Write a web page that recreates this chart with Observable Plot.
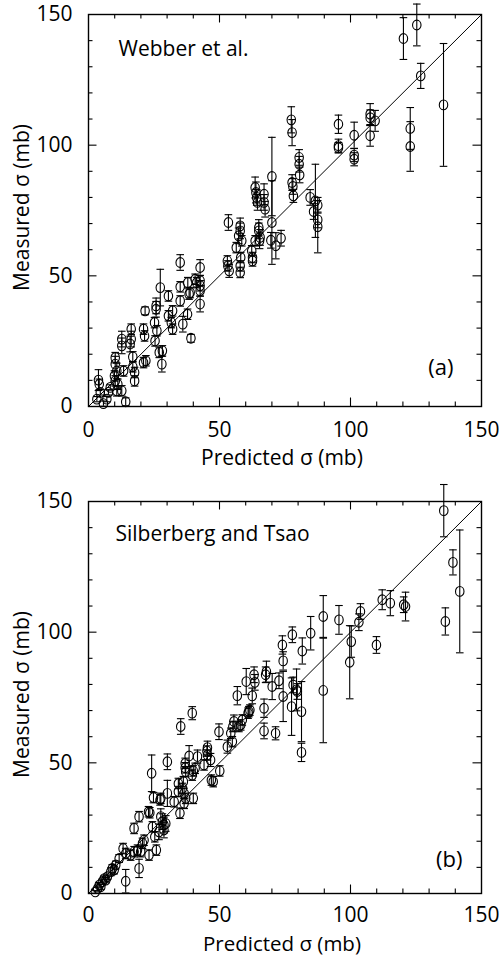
<!DOCTYPE html>
<html><head><meta charset="utf-8">
<script src="https://cdn.jsdelivr.net/npm/d3@7"></script>
<script src="https://cdn.jsdelivr.net/npm/@observablehq/plot@0.6"></script>
<style>
body{margin:0;background:#fff;}
#chart svg{display:block;}
</style></head><body><div id="chart"></div>
<script>
// Panel (a): Webber et al.
const webberPred = [120.2,125.3,126.8,135.5,122.8,122.8,107.5,107.5,107.5,109.4,95.4,95.4,95.4,101.4,101.4,101.4,77.4,77.7,77.7,78.0,78.2,80.4,80.4,80.6,70.0,70.0,69.6,71.5,73.5,84.6,85.9,86.6,87.5,87.5,87.5,63.6,63.9,64.2,64.5,67.0,67.0,67.4,65.0,65.0,65.5,65.3,62.3,62.6,62.6,58.5,56.4,57.3,57.9,57.9,58.1,57.9,57.9,53.4,53.0,53.2,53.7,63.6,35.0,42.6,40.7,41.3,42.6,42.6,37.9,38.4,38.8,35.0,35.0,42.6,37.8,36.0,39.1,30.5,32.1,30.5,32.1,31.6,27.4,25.8,25.8,25.2,26.1,25.4,27.0,28.2,28.0,21.6,21.0,21.4,21.9,21.0,16.3,16.3,15.9,16.9,16.9,17.6,17.6,12.7,12.7,10.2,10.2,10.8,9.9,10.2,11.2,13.4,10.8,12.7,14.2,3.8,4.1,3.2,4.5,5.7,7.0,7.6,8.3,42.6];
const webberMeas = [140.8,146.0,126.5,115.4,106.4,99.5,111.9,110.5,103.6,109.3,108.0,99.8,99.0,103.8,96.2,94.6,109.7,104.8,85.7,84.2,80.6,95.3,92.7,88.6,88.0,70.4,63.6,61.5,64.4,80.0,74.6,78.7,77.0,71.4,68.8,83.8,81.9,80.0,78.1,81.2,78.1,75.5,68.5,67.2,64.7,63.4,59.6,57.0,55.7,63.4,60.8,65.3,67.2,69.1,57.0,53.8,51.3,70.4,55.7,53.8,51.9,63.4,55.1,53.2,48.7,47.4,48.1,46.2,47.4,43.0,43.6,45.8,40.4,39.2,35.3,31.5,26.1,42.3,36.6,34.7,29.6,32.1,45.5,38.5,37.2,32.1,29.0,25.1,20.7,21.3,16.2,36.6,29.6,27.0,17.5,16.8,29.6,25.8,23.9,19.0,15.2,13.0,9.8,25.8,23.2,18.7,16.2,13.6,11.7,9.8,8.5,13.6,6.0,6.0,1.8,10.1,8.5,2.8,5.4,1.1,2.8,5.4,7.3,44.3];
const webberErr = [8,8,4.8,23.5,8,9.5,4,3,4,4,3.5,2.5,2,5,2.5,2.5,5,5,3,3,2.5,3,3,3,15,16,3,5,3,3,3,14,3,3,10,4,4,3,3,4,3,3,3,3,3,3,2,2,2,2,2,3,3,3,2,2,2,3,2,2,2.5,2,3,3,2,2,2,2,2,2,2,2,2,3,2,3,1.5,2,2,2,2,2,7,3,3,2,2,2,2,2,3,1.5,2,2,2,2,2,3,3,2,2,2,2,3,3,2,3,3,2,2,2,2,2,2,1.5,4,2,1,1,1,1,1,1,2];

// Panel (b): Silberberg and Tsao
const stPred = [135.6,139.1,141.7,136.2,121.0,120.3,112.1,115.2,109.9,103.8,103.2,100.3,99.7,95.6,89.6,89.6,84.8,81.6,81.3,81.3,79.4,79.7,78.1,77.5,77.8,74.0,74.3,74.3,70.1,72.7,71.4,67.9,67.6,67.0,67.0,63.2,63.5,60.2,62.5,61.2,60.9,61.6,56.8,58.1,57.4,58.7,55.5,55.1,54.3,53.0,54.9,49.8,50.1,46.9,47.6,45.4,45.4,45.2,46.6,44.1,41.6,40.7,39.6,40.0,38.4,36.9,36.9,37.1,39.6,35.2,36.2,35.8,36.5,34.3,34.3,40.0,37.1,36.5,32.7,34.9,30.1,30.1,27.3,27.6,24.1,24.8,22.9,23.4,19.3,17.4,24.4,25.3,25.9,27.6,28.2,28.8,29.5,28.8,26.9,21.2,20.6,18.7,19.9,23.1,13.2,14.2,16.1,17.4,19.3,14.2,11.7,10.4,9.1,8.5,9.8,7.2,6.6,5.3,4.1,3.5,2.6,4.7,6.0];
const stMeas = [146.5,126.7,115.6,104.1,109.8,110.5,112.4,111.1,95.1,107.9,103.8,96.4,88.5,104.7,106.0,77.7,99.6,92.8,69.6,54.0,77.9,77.3,79.8,71.5,99.0,95.1,89.0,75.4,79.2,81.4,61.3,84.9,83.7,70.9,62.2,83.7,80.8,81.1,75.6,69.6,69.0,70.2,75.7,64.5,63.9,66.4,65.8,63.9,61.3,56.2,58.1,61.9,46.9,43.4,42.8,55.8,53.0,54.5,51.1,49.2,52.4,47.9,45.3,46.9,52.6,48.1,49.8,46.6,69.0,63.9,42.8,40.2,38.3,42.1,39.0,36.4,36.4,34.5,35.1,30.7,50.4,38.3,35.8,36.4,46.0,36.7,31.3,30.9,29.4,24.9,25.5,21.7,16.6,29.4,27.5,26.2,26.8,24.3,23.6,20.4,19.2,16.6,16.0,14.7,17.2,15.3,14.7,16.0,9.6,4.7,13.4,10.9,9.6,8.3,9.0,6.4,5.1,4.5,3.2,1.9,0.6,2.6,5.7];
const stErr = [10,4.8,23.5,5.2,5.5,3,3.8,4.8,3.2,3,3.2,6,14,5.5,8,20,6.4,5,11.5,3.5,8,3,3,11,3,3.5,3.5,9.6,5,3,2.5,4,3,3.5,3,3,3,5,3,2,2,2,3.5,2,2,2,2.5,2,2,2.5,2,3,2,2,2,2.5,2,2,2.5,2,2.5,2,2,2,4,2,2,2,2.5,3,2,2,2,2,2,2,2,2,2,2,3,5,2,2,7,2,2,2,2,2,2,2,2,3,3,3,3,3,3,2,2,2,2,2,2,2,2,2,3.5,4.5,1.5,1.5,1.5,1.5,1.5,1,1,1,1,1,0.5,1,1];

// Axes
const axisTicks = [0, 50, 100, 150];
const midTicks = [50, 100];
const minorTicks = [10, 20, 30, 40, 60, 70, 80, 90, 110, 120, 130, 140];
const diagonal = [0, 150];
const xTitle = "Predicted σ (mb)";
const yTitle = "Measured σ (mb)";

const FONT = "'Open Sans', 'DejaVu Sans', sans-serif";
const capSymbol = {draw(ctx, size) { const w = Math.sqrt(size / Math.PI); ctx.moveTo(-w, 0); ctx.lineTo(w, 0); }};
// slightly tall open ellipse, as in the scanned figure
const ovalSymbol = {draw(ctx, size) {
  const r = Math.sqrt(size / Math.PI), rx = r * 0.92, ry = r * 1.06, k = 0.5523;
  ctx.moveTo(rx, 0);
  ctx.bezierCurveTo(rx, ry * k, rx * k, ry, 0, ry);
  ctx.bezierCurveTo(-rx * k, ry, -rx, ry * k, -rx, 0);
  ctx.bezierCurveTo(-rx, -ry * k, -rx * k, -ry, 0, -ry);
  ctx.bezierCurveTo(rx * k, -ry, rx, -ry * k, rx, 0);
  ctx.closePath();
}};

function panel(o) {
  const W = 499, H = 478, ml = 88, mr = 18;
  const iw = W - ml - mr, ih = H - o.mt - o.mb;
  const rows = o.pred.map((x, i) => ({x, y: o.meas[i], e: o.err[i]}));
  const ink = {stroke: "black", strokeWidth: 1.1};
  return Plot.plot({
    width: W, height: H,
    marginLeft: ml, marginRight: mr, marginTop: o.mt, marginBottom: o.mb,
    style: {fontFamily: FONT, background: "white", overflow: "visible", color: "black"},
    x: {domain: [0, 150]},
    y: {domain: [0, 150]},
    marks: [
      Plot.ruleX(minorTicks, {x: d => d, insetTop: ih - 4.5, ...ink}),
      Plot.ruleX(midTicks, {x: d => d, insetTop: ih - 8.5, ...ink}),
      Plot.ruleX(minorTicks, {x: d => d, insetBottom: ih - 4.5, ...ink}),
      Plot.ruleX(midTicks, {x: d => d, insetBottom: ih - 8.5, ...ink}),
      Plot.ruleY(minorTicks, {y: d => d, insetRight: iw - 4.5, ...ink}),
      Plot.ruleY(midTicks, {y: d => d, insetRight: iw - 8.5, ...ink}),
      Plot.ruleY(minorTicks, {y: d => d, insetLeft: iw - 4.5, ...ink}),
      Plot.ruleY(midTicks, {y: d => d, insetLeft: iw - 8.5, ...ink}),
      Plot.axisX({ticks: axisTicks, tickSize: 0, tickPadding: o.xPad, fontSize: 21, tickFormat: d => String(d), label: null}),
      Plot.axisY({ticks: axisTicks, tickSize: 0, tickPadding: 16, fontSize: 21, tickFormat: d => String(d), label: null}),
      Plot.line(diagonal, {x: d => d, y: d => d, stroke: "black", strokeWidth: 1}),
      Plot.ruleX(rows, {x: "x", y1: d => d.y - d.e, y2: d => d.y + d.e, ...ink}),
      Plot.dot(rows, {x: "x", y: d => d.y + d.e, symbol: capSymbol, r: 3.8, fill: "none", ...ink}),
      Plot.dot(rows, {x: "x", y: d => d.y - d.e, symbol: capSymbol, r: 3.8, fill: "none", ...ink}),
      Plot.dot(rows, {x: "x", y: "y", symbol: ovalSymbol, r: 4.6, fill: "none", ...ink}),
      Plot.frame({stroke: "black", strokeWidth: 1.4}),
      Plot.text([o.name], {text: d => d, frameAnchor: "top-left", textAnchor: "start", lineAnchor: "bottom", dx: o.nameDx, dy: o.nameDy, fontSize: 21, fill: "black"}),
      Plot.text([o.tag], {text: d => d, frameAnchor: "bottom-right", textAnchor: "end", lineAnchor: "bottom", dx: o.tagDx, dy: o.tagDy, fontSize: 22, fill: "black"}),
      Plot.text([xTitle], {text: d => d, frameAnchor: "bottom", textAnchor: "middle", lineAnchor: "bottom", dx: -3, dy: o.xLabelDy, fontSize: o.xLabelSize, fill: "black"}),
      Plot.text([yTitle], {text: d => d, frameAnchor: "left", textAnchor: "middle", lineAnchor: "middle", rotate: -90, dx: -66, dy: -3, fontSize: 21, fill: "black"})
    ]
  });
}

const chart = document.getElementById("chart");
chart.append(panel({pred: webberPred, meas: webberMeas, err: webberErr, name: "Webber et al.", tag: "(a)",
  mt: 14, mb: 72, xPad: 16, xLabelDy: 58, xLabelSize: 21, nameDx: 30, nameDy: 41, tagDx: -28, tagDy: -32}));
chart.append(panel({pred: stPred, meas: stMeas, err: stErr, name: "Silberberg and Tsao", tag: "(b)",
  mt: 23, mb: 63, xPad: 14, xLabelDy: 57, xLabelSize: 20.5, nameDx: 27, nameDy: 39, tagDx: -19, tagDy: -27}));
</script></body></html>
